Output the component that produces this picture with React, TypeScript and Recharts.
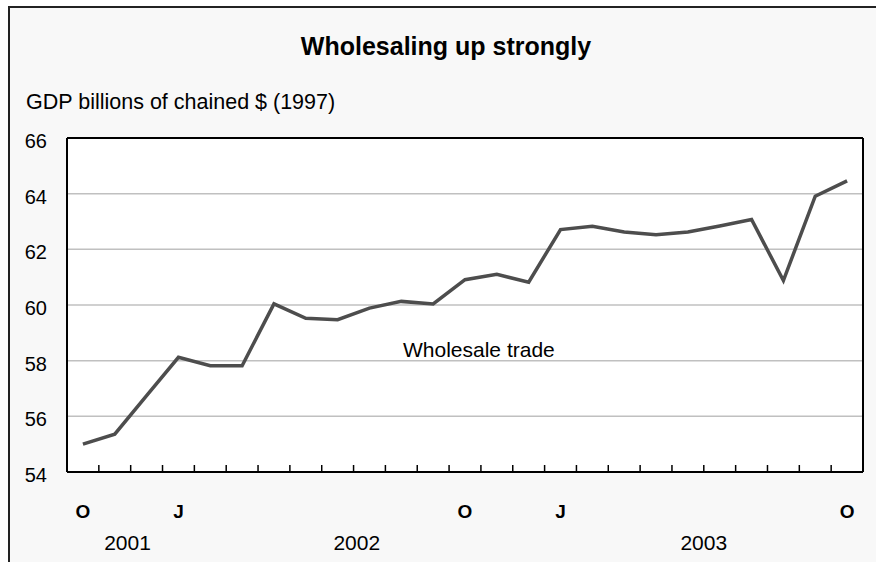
import { CartesianGrid, Line, LineChart, XAxis, YAxis } from "recharts"

// monthly, Oct 2001 .. Oct 2003
const monthLabels = ["O", "", "", "J", "", "", "", "", "", "", "", "", "O", "", "", "J", "", "", "", "", "", "", "", "", "O"]
const wholesale = [
  55.0, 55.36, 56.74, 58.12, 57.82, 57.82, 60.04, 59.52, 59.47, 59.89, 60.13, 60.04, 60.91,
  61.1, 60.82, 62.71, 62.83, 62.62, 62.52, 62.62, 62.84, 63.07, 60.88, 63.91, 64.46,
]
const yTicks = [54, 56, 58, 60, 62, 64, 66]
const years = ["2001", "2002", "2003"]
// where each year label sits on the month index scale
const yearPos = [1.4, 8.6, 19.5]

const data = wholesale.map((value, idx) => ({ idx, value }))
const n = wholesale.length
const xDomain = [-0.5, n - 0.5]
const centerTicks = [...wholesale.map((_, i) => i), ...yearPos]
const edgeTicks = [...wholesale.map((_, i) => i - 0.5), n - 0.5]

const font = "'Liberation Sans', Arial, sans-serif"

function MonthTick(props: any) {
  const { x, y, payload } = props
  const v = payload.value
  const yi = yearPos.indexOf(v)
  if (yi >= 0) {
    return (
      <text x={x} y={y + 70} textAnchor="middle" fontSize={21} fill="#000" fontFamily={font}>
        {years[yi]}
      </text>
    )
  }
  const lbl = monthLabels[v]
  if (!lbl) return <g />
  return (
    <text x={x} y={y + 38} textAnchor="middle" fontSize={19} fontWeight="bold" fill="#000" fontFamily={font}>
      {lbl}
    </text>
  )
}

function ValueTick(props: any) {
  const { x, y, payload } = props
  return (
    <text x={x} y={y + 10} textAnchor="end" fontSize={20} fill="#000" fontFamily={font}>
      {payload.value}
    </text>
  )
}

const Empty = () => <g />

export default function App() {
  return (
    <div style={{ position: "absolute", left: 0, top: 0, width: 876, height: 562, overflow: "hidden", background: "#fff", fontFamily: font }}>
      <div
        style={{
          position: "absolute",
          left: 8,
          top: 6,
          width: 900,
          height: 600,
          borderTop: "2px solid #222",
          borderLeft: "2px solid #222",
          background: "#f8f8f8",
        }}
      />
      <div style={{ position: "absolute", left: 0, width: 892, top: 31, lineHeight: "30px", fontSize: 25, fontWeight: "bold", textAlign: "center", color: "#000" }}>
        Wholesaling up strongly
      </div>
      <div style={{ position: "absolute", left: 26, top: 90, lineHeight: "24px", fontSize: 21.5, color: "#000", whiteSpace: "nowrap" }}>
        GDP billions of chained $ (1997)
      </div>
      <div style={{ position: "absolute", left: 0, top: 0 }}>
        <LineChart width={876} height={562} data={data} margin={{ top: 137, right: 12, bottom: 89, left: 7 }}>
          <CartesianGrid xAxisId="main" yAxisId="left" vertical={false} stroke="#c0c0c0" strokeWidth={1.5} fill="#ffffff" fillOpacity={1} />
          <XAxis
            xAxisId="edge"
            type="number"
            dataKey="idx"
            domain={xDomain}
            ticks={edgeTicks}
            interval={0}
            allowDataOverflow
            height={1}
            mirror
            tickSize={7}
            tickLine={{ stroke: "#000", strokeWidth: 1.5 }}
            axisLine={{ stroke: "#000", strokeWidth: 2 }}
            tick={<Empty />}
          />
          <XAxis
            xAxisId="main"
            type="number"
            dataKey="idx"
            domain={xDomain}
            ticks={centerTicks}
            interval={0}
            allowDataOverflow
            height={1}
            tickLine={false}
            axisLine={false}
            tick={<MonthTick />}
          />
          <XAxis
            xAxisId="top"
            orientation="top"
            type="number"
            dataKey="idx"
            domain={xDomain}
            allowDataOverflow
            height={1}
            tick={<Empty />}
            tickLine={false}
            axisLine={{ stroke: "#000", strokeWidth: 2 }}
          />
          <YAxis
            yAxisId="left"
            domain={[54, 66]}
            ticks={yTicks}
            interval={0}
            width={60}
            tickLine={false}
            tickSize={0}
            tickMargin={20}
            axisLine={{ stroke: "#000", strokeWidth: 2 }}
            tick={<ValueTick />}
          />
          <YAxis
            yAxisId="right"
            orientation="right"
            domain={[54, 66]}
            width={1}
            tick={<Empty />}
            tickLine={false}
            axisLine={{ stroke: "#000", strokeWidth: 2 }}
          />
          <Line
            xAxisId="main"
            yAxisId="left"
            type="linear"
            dataKey="value"
            stroke="#4d4d4d"
            strokeWidth={3.5}
            dot={false}
            isAnimationActive={false}
          />
        </LineChart>
      </div>
      <div style={{ position: "absolute", left: 403, top: 338, lineHeight: "24px", fontSize: 21, color: "#000", whiteSpace: "nowrap" }}>
        Wholesale trade
      </div>
    </div>
  )
}
